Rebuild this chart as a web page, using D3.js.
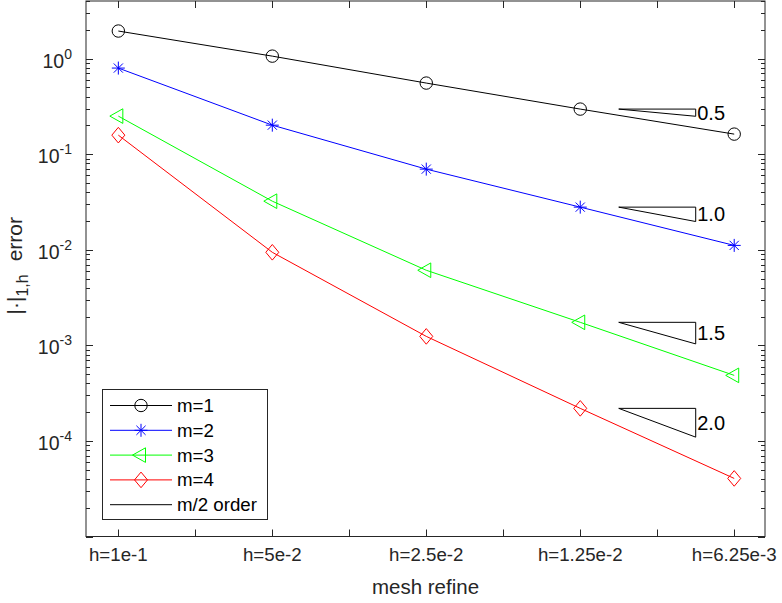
<!DOCTYPE html>
<html>
<head>
<meta charset="utf-8">
<script src="https://cdn.jsdelivr.net/npm/d3@7"></script>
<style>
  body { margin: 0; background: #fff; }
  svg { font-family: "Liberation Sans", Arial, sans-serif; }
</style>
</head>
<body>
<svg id="chart" width="782" height="603"></svg>
<script>
// Data
var xIndex = [1, 2, 3, 4, 5];
var xTickLabels = ["h=1e-1", "h=5e-2", "h=2.5e-2", "h=1.25e-2", "h=6.25e-3"];
var errM1 = [1.94, 1.06, 0.554, 0.296, 0.162];
var errM2 = [0.795, 0.201, 0.0697, 0.0279, 0.0111];
var errM3 = [0.25, 0.0322, 0.0061, 0.00174, 0.000485];
var errM4 = [0.158, 0.0094, 0.00124, 0.000219, 0.0000405];
var seriesNames = ["m=1", "m=2", "m=3", "m=4"];
var slopeOrders = [0.5, 1.0, 1.5, 2.0];
var slopeLabels = ["0.5", "1.0", "1.5", "2.0"];

var AXIS_COLOR = "#262626";
var COLORS = ["#000000", "#0000ff", "#00ff00", "#ff0000"];
var MARKERS = ["circle", "star", "triangle", "diamond"];

var svg = d3.select("#chart");
var pLeft = 86, pRight = 765, pTop = 1, pBottom = 536.5;

var x = d3.scaleLinear().domain([0.79, 5.2]).range([pLeft, pRight]);
var y = d3.scaleLog().domain([1e-5, 4]).range([pBottom, pTop]);

// Marker path builder
var drawMarker = function(g, type, cx, cy, color) {
  if (type === "circle") {
    g.append("circle").attr("cx", cx).attr("cy", cy).attr("r", 6.2)
      .attr("fill", "none").attr("stroke", color).attr("stroke-width", 1);
    return;
  }
  var p;
  if (type === "star") {
    var r = 6.5, d = r * 0.7071;
    p = "M" + (cx - r) + "," + cy + "L" + (cx + r) + "," + cy +
      "M" + cx + "," + (cy - r) + "L" + cx + "," + (cy + r) +
      "M" + (cx - d) + "," + (cy - d) + "L" + (cx + d) + "," + (cy + d) +
      "M" + (cx - d) + "," + (cy + d) + "L" + (cx + d) + "," + (cy - d);
  } else if (type === "triangle") {
    p = "M" + (cx - 8.5) + "," + cy + "L" + (cx + 4.5) + "," + (cy - 7.3) +
      "L" + (cx + 4.5) + "," + (cy + 7.3) + "Z";
  } else {
    p = "M" + cx + "," + (cy - 7.8) + "L" + (cx + 6.5) + "," + cy +
      "L" + cx + "," + (cy + 7.8) + "L" + (cx - 6.5) + "," + cy + "Z";
  }
  g.append("path").attr("d", p).attr("stroke", color).attr("stroke-width", 1).attr("fill", "none");
};

// Series
var allSeries = [errM1, errM2, errM3, errM4];
var line = d3.line().x(function(d, i) { return x(xIndex[i]); }).y(function(d) { return y(d); });
var plot = svg.append("g");
allSeries.forEach(function(vals, k) {
  plot.append("path").datum(vals).attr("d", line)
    .attr("fill", "none").attr("stroke", COLORS[k]).attr("stroke-width", 1);
  vals.forEach(function(v, i) {
    drawMarker(plot, MARKERS[k], x(xIndex[i]), y(v), COLORS[k]);
  });
});

// Slope triangles, anchored on the 4th point of each series
allSeries.forEach(function(vals, k) {
  var anchor = vals[3];
  var x0 = 4.25, x1 = 4.75;
  var low = anchor * Math.pow(2, -slopeOrders[k] * (x1 - x0));
  var pts = [[x(x0), y(anchor)], [x(x1), y(anchor)], [x(x1), y(low)]];
  plot.append("path").attr("d", "M" + pts.join("L") + "Z")
    .attr("fill", "none").attr("stroke", "#000").attr("stroke-width", 1);
  plot.append("text").attr("x", x(x1) + 1.5).attr("y", (y(anchor) + y(low)) / 2 + 7)
    .attr("font-size", 20).attr("fill", "#000").text(slopeLabels[k]);
});

// Axes box and ticks
var ax = svg.append("g").attr("stroke", AXIS_COLOR).attr("stroke-width", 1).attr("fill", "none");
ax.append("rect").attr("x", pLeft).attr("y", pTop).attr("width", pRight - pLeft).attr("height", pBottom - pTop);

var xTicks = d3.range(1, 5.01, 0.5);
xTicks.forEach(function(t) {
  var px = Math.round(x(t)) + 0.5;
  ax.append("line").attr("x1", px).attr("x2", px).attr("y1", pBottom).attr("y2", pBottom - 7);
  ax.append("line").attr("x1", px).attr("x2", px).attr("y1", pTop).attr("y2", pTop + 7);
});

var yMajor = [1e-5, 1e-4, 1e-3, 1e-2, 1e-1, 1];
var yMinor = [];
yMajor.forEach(function(m) {
  for (var j = 2; j <= 9; j++) { if (m * j <= 4) yMinor.push(m * j); }
});
yMajor.forEach(function(t) {
  var py = Math.round(y(t)) + 0.5;
  ax.append("line").attr("x1", pLeft).attr("x2", pLeft + 7).attr("y1", py).attr("y2", py);
  ax.append("line").attr("x1", pRight).attr("x2", pRight - 7).attr("y1", py).attr("y2", py);
});
yMinor.forEach(function(t) {
  var py = Math.round(y(t)) + 0.5;
  ax.append("line").attr("x1", pLeft).attr("x2", pLeft + 4).attr("y1", py).attr("y2", py);
  ax.append("line").attr("x1", pRight).attr("x2", pRight - 4).attr("y1", py).attr("y2", py);
});

// Tick labels
var labels = svg.append("g").attr("fill", AXIS_COLOR);
xIndex.forEach(function(t, i) {
  labels.append("text").attr("x", x(t)).attr("y", 561).attr("text-anchor", "middle")
    .attr("font-size", 18.7).text(xTickLabels[i]);
});
[1e-4, 1e-3, 1e-2, 1e-1, 1].forEach(function(t) {
  var e = Math.round(Math.log10(t));
  var tx = labels.append("text").attr("x", 72).attr("y", y(t) + 9).attr("text-anchor", "end")
    .attr("font-size", 19.5);
  tx.append("tspan").text("10");
  tx.append("tspan").attr("dy", -9).attr("font-size", 14).text(String(e));
});

// Axis titles
labels.append("text").attr("x", (pLeft + pRight) / 2).attr("y", 594).attr("text-anchor", "middle")
  .attr("font-size", 20.5).text("mesh refine");
var yl = labels.append("text").attr("transform", "translate(22," + ((pTop + pBottom) / 2 - 3) + ") rotate(-90)")
  .attr("text-anchor", "middle").attr("font-size", 21);
yl.append("tspan").text("|\u00b7|");
yl.append("tspan").attr("dy", 6).attr("font-size", 16).text("1,h");
yl.append("tspan").attr("dy", -6).attr("dx", 13).text("error");

// Legend
var lg = svg.append("g");
lg.append("rect").attr("x", 102.5).attr("y", 389.5).attr("width", 165).attr("height", 130)
  .attr("fill", "#fff").attr("stroke", AXIS_COLOR).attr("stroke-width", 1);
var legendNames = seriesNames.concat(["m/2 order"]);
legendNames.forEach(function(name, i) {
  var ly = 405.5 + i * 24.8;
  var col = i < 4 ? COLORS[i] : "#000";
  lg.append("line").attr("x1", 110).attr("x2", 172).attr("y1", ly).attr("y2", ly)
    .attr("stroke", col).attr("stroke-width", 1);
  if (i < 4) drawMarker(lg, MARKERS[i], 141, ly, col);
  lg.append("text").attr("x", 177).attr("y", ly + 6.5).attr("font-size", 18.7)
    .attr("fill", "#000").text(name);
});
</script>
</body>
</html>
